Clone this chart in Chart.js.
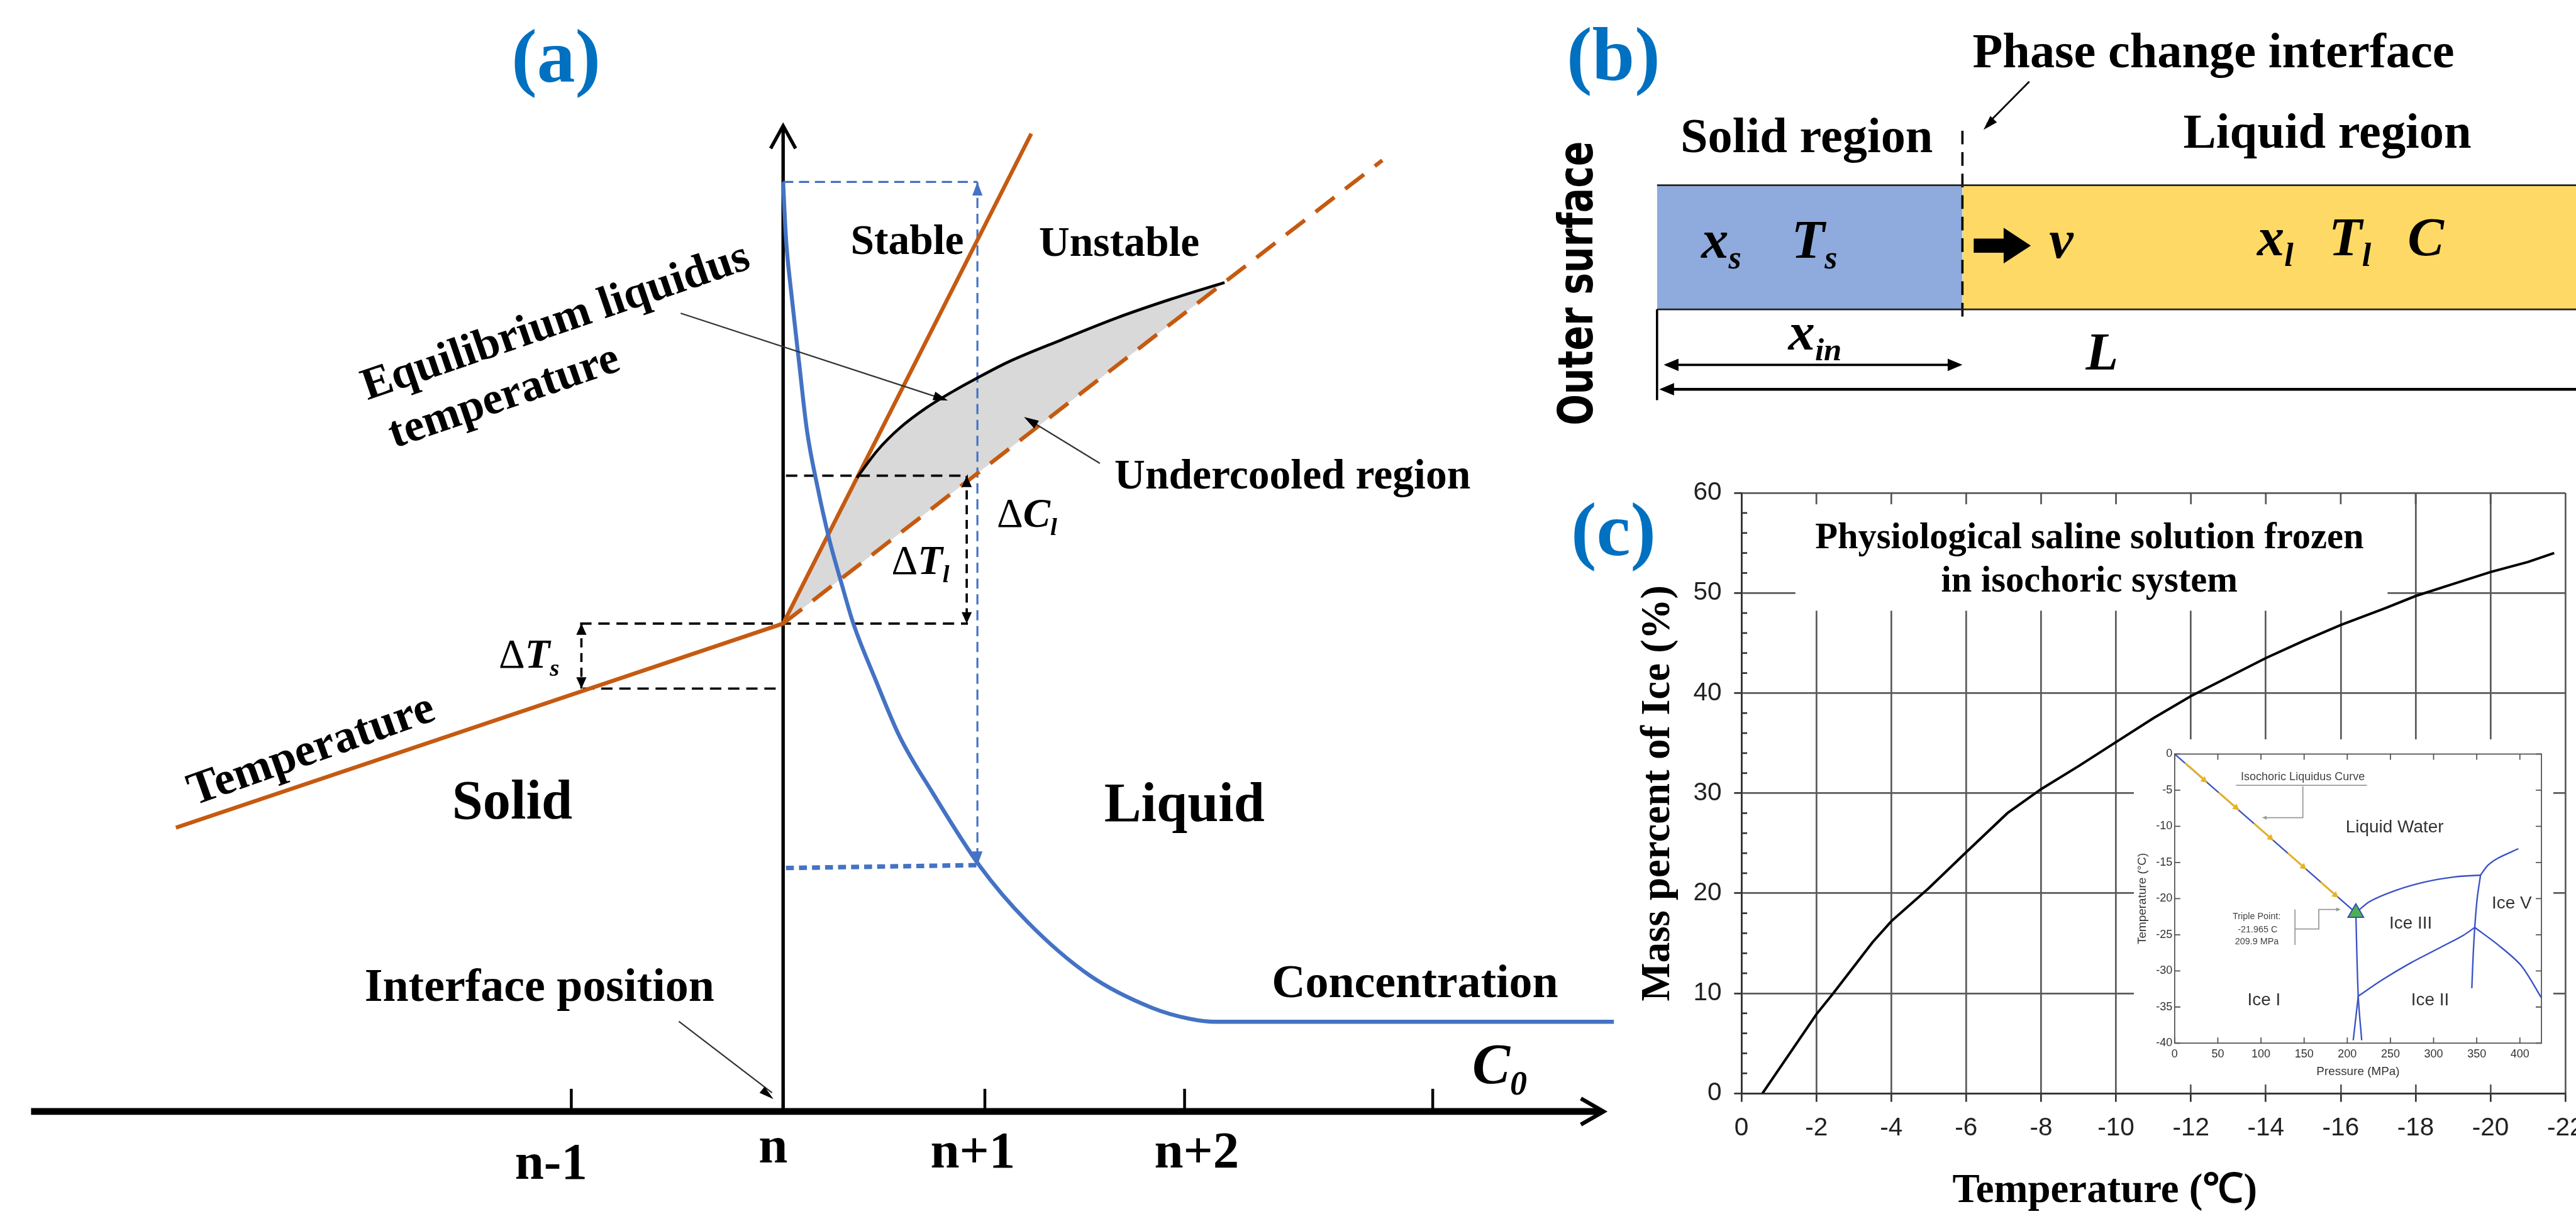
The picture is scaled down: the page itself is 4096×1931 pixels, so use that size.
<!DOCTYPE html>
<html>
<head>
<meta charset="utf-8">
<script src="https://cdn.jsdelivr.net/npm/chart.js@4.4.1/dist/chart.umd.min.js"></script>
<style>
html, body { margin: 0; padding: 0; background: #fff; overflow: hidden; width: 4096px; height: 1931px; }
canvas { position: absolute; }
</style>
</head>
<body>
<canvas id="pa"></canvas>
<canvas id="pb"></canvas>
<canvas id="pc"></canvas>
<canvas id="pd"></canvas>
<script>
const S = 0.901;
const SERIF = '"Liberation Serif", "Times New Roman", serif';
const SANS = '"Liberation Sans", Arial, sans-serif';
const HEAVY = '"DejaVu Sans", "Liberation Sans", Arial, sans-serif';
const NARROW = '"Liberation Sans Narrow", "Liberation Sans", Arial, sans-serif';
const ORANGE = '#C55A11', BLUE = '#4472C4', TITLE_BLUE = '#0070C0';
const INSET_BLUE = '#3A52C4', GOLD = '#E9B320';

// ---------- (a) schematic: x = grid node from interface (n = 0), y = arbitrary units ----------
const nodeTicks = [-1.05, 0, 1.0, 1.99, 3.22];
const nodeNames = ['n-1', 'n', 'n+1', 'n+2'];
const tempX = [-3.01, 0, 1.23];
const tempY = [28.8, 49.5, 99.2];
const tempDashX = [0, 2.97];
const tempDashY = [49.5, 96.5];
const liquidusX = [0.366, 0.469, 0.576, 0.711, 0.846, 0.952, 1.112, 1.382, 1.652, 1.921, 2.188];
const liquidusY = [64.3, 67.1, 69.3, 71.4, 73.1, 74.3, 76.0, 78.3, 80.5, 82.4, 84.1];
const concX = [0, 0.014, 0.039, 0.079, 0.118, 0.171, 0.228, 0.289, 0.348, 0.458, 0.576, 0.742, 0.975, 1.208, 1.52, 1.831, 2.017, 2.143, 4.118];
const concY = [94.3, 88.6, 83.3, 76.0, 69.1, 63.3, 58.1, 53.6, 49.5, 43.8, 38.1, 32.3, 24.9, 19.3, 13.8, 10.5, 9.4, 9.1, 9.1];
const probeX = 0.963;
const concTop = 94.3, concLow = 25.0;
const tLiq = 64.5, tInt = 49.5, tSol = 42.9;

// ---------- (b) 1-D domain: x in units of x_in, y = layer height ----------
const solidSpan = [0, 1];
const liquidSpan = [1, 3.1];

// ---------- (c) ice fraction vs temperature ----------
const tempC = [-0.56, -2.0, -2.45, -3.5, -4.0, -5.0, -6.0, -7.1, -8.0, -9.0, -10.0, -11.0, -12.0, -13.0, -14.0, -15.0, -16.0, -17.2, -18.0, -19.0, -20.0, -21.0, -21.7];
const iceMass = [0, 7.9, 10.0, 15.1, 17.2, 20.5, 24.1, 28.0, 30.4, 32.7, 35.1, 37.5, 39.7, 41.6, 43.5, 45.2, 46.8, 48.5, 49.7, 50.9, 52.1, 53.1, 54.0];
const xTicksC = [0, -2, -4, -6, -8, -10, -12, -14, -16, -18, -20, -22];
const yTicksC = [0, 10, 20, 30, 40, 50, 60];

// ---------- inset: water phase diagram (pressure MPa, temperature C) ----------
const insetXTicks = [0, 50, 100, 150, 200, 250, 300, 350, 400];
const insetYTicks = [0, -5, -10, -15, -20, -25, -30, -35, -40];
const liqCurveP = [0, 209.9];
const liqCurveT = [0, -21.965];
const yellowSegP = [[12, 34], [51, 74], [92, 113], [131, 152], [169, 188]];
const yellowSegT = [[-1.2, -3.5], [-5.3, -7.7], [-9.6, -11.8], [-13.7, -15.9], [-17.7, -19.7]];
const markP = [34, 71, 111, 149, 186];
const markT = [-3.6, -7.4, -11.6, -15.6, -19.5];
const triplePoint = [209.9, -21.965];
const ice1aP = [209.9, 212.7, 216.7], ice1aT = [-21.965, -33.5, -39.6];
const ice1bP = [212.7, 206.9], ice1bT = [-33.5, -39.6];
const ice32P = [212.7, 239.7, 273.4, 307.2, 334.2, 347.7], ice32T = [-33.5, -31.3, -28.9, -26.8, -25.1, -24.0];
const liq3P = [209.9, 226, 256.5, 290, 324, 354.4], liq3T = [-21.965, -20.4, -18.85, -17.7, -17.0, -16.75];
const liq5P = [354.4, 362.9, 374.7, 398.3], liq5T = [-16.75, -15.4, -14.4, -13.1];
const ice35P = [354.4, 350.5, 347.7, 345.8, 344.3], ice35T = [-16.75, -20.0, -24.0, -28.0, -32.4];
const ice25P = [347.7, 374.7, 401.7, 425.3], ice25T = [-24.0, -26.4, -29.3, -33.8];

// ---------- helpers ----------
Chart.defaults.font.family = SANS;
Chart.defaults.color = '#222';

const pts = (xs, ys) => xs.map((x, i) => ({x: x, y: ys[i]}));
const pix = (ch, x, y) => [ch.scales.x.getPixelForValue(x), ch.scales.y.getPixelForValue(y)];

function line(data, color, width, more) {
  return Object.assign({data: data, borderColor: color, backgroundColor: color, borderWidth: width * S,
    pointRadius: 0, fill: false, tension: 0}, more || {});
}
function dash(a, b) { return [a * S, b * S]; }

function place(id, x, y, w, h) {
  const c = document.getElementById(id);
  const L = Math.round(x * S), T = Math.round(y * S);
  const W = Math.round((x + w) * S) - L, H = Math.round((y + h) * S) - T;
  c.style.left = L + 'px'; c.style.top = T + 'px';
  c.width = W; c.height = H; c.style.width = W + 'px'; c.style.height = H + 'px';
  return c;
}

function baseOptions(scales, padding) {
  return {
    responsive: false, maintainAspectRatio: false, animation: false, devicePixelRatio: 1, events: [],
    layout: {padding: padding || 0},
    plugins: {legend: {display: false}, tooltip: {enabled: false}},
    scales: scales
  };
}

function poly(ctx, p, color, w, d) {
  ctx.save();
  ctx.strokeStyle = color; ctx.lineWidth = w * S;
  ctx.setLineDash(d ? d.map(v => v * S) : []);
  ctx.beginPath();
  p.forEach((q, i) => i ? ctx.lineTo(q[0], q[1]) : ctx.moveTo(q[0], q[1]));
  ctx.stroke();
  ctx.restore();
}
function head(ctx, from, tip, len, wid, color) {
  const a = Math.atan2(tip[1] - from[1], tip[0] - from[0]);
  const bx = tip[0] - len * S * Math.cos(a), by = tip[1] - len * S * Math.sin(a);
  const nx = -Math.sin(a) * wid * S / 2, ny = Math.cos(a) * wid * S / 2;
  ctx.save(); ctx.fillStyle = color; ctx.beginPath();
  ctx.moveTo(tip[0], tip[1]); ctx.lineTo(bx + nx, by + ny); ctx.lineTo(bx - nx, by - ny);
  ctx.closePath(); ctx.fill(); ctx.restore();
}
function chevron(ctx, from, tip, len, wid, color, lw) {
  const a = Math.atan2(tip[1] - from[1], tip[0] - from[0]);
  const bx = tip[0] - len * S * Math.cos(a), by = tip[1] - len * S * Math.sin(a);
  const nx = -Math.sin(a) * wid * S / 2, ny = Math.cos(a) * wid * S / 2;
  ctx.save(); ctx.strokeStyle = color; ctx.lineWidth = lw * S; ctx.lineJoin = 'miter';
  ctx.beginPath(); ctx.moveTo(bx + nx, by + ny); ctx.lineTo(tip[0], tip[1]); ctx.lineTo(bx - nx, by - ny);
  ctx.stroke(); ctx.restore();
}
function text(ctx, s, x, y, size, o) {
  o = o || {};
  ctx.save();
  ctx.font = (o.style || 'bold') + ' ' + (size * S) + 'px ' + (o.family || SERIF);
  ctx.fillStyle = o.color || '#000';
  ctx.textAlign = o.align || 'center';
  ctx.textBaseline = o.base || 'middle';
  ctx.translate(x, y);
  if (o.rot) ctx.rotate(o.rot * Math.PI / 180);
  if (o.fitW) { const w = ctx.measureText(s).width; ctx.scale(o.fitW * S / w, 1); }
  ctx.fillText(s, 0, 0);
  ctx.restore();
}
// runs: [text, fontStyle, isSubscript]; x = left edge, y = baseline
function rich(ctx, runs, x, y, size) {
  ctx.save();
  ctx.textBaseline = 'alphabetic'; ctx.textAlign = 'left'; ctx.fillStyle = '#000';
  let cx = x;
  runs.forEach(r => {
    const sz = (r[2] ? size * 0.6 : size) * S;
    ctx.font = r[1] + ' ' + sz + 'px ' + SERIF;
    ctx.fillText(r[0], cx, y + (r[2] ? size * 0.2 * S : 0));
    cx += ctx.measureText(r[0]).width;
  });
  ctx.restore();
}

// ================= panel (a) =================
const panelA = {
  id: 'panelA',
  beforeDatasetsDraw(ch) {
    const ctx = ch.ctx, P = (x, y) => pix(ch, x, y);
    poly(ctx, [P(-3.728, 0), P(4.05, 0)], '#000', 12);
    chevron(ctx, P(3.9, 0), P(4.067, 0), 40, 46, '#000', 7);
    nodeTicks.forEach(v => poly(ctx, [P(v, 0), P(v, 2.3)], '#000', 5));
    poly(ctx, [P(0, 0), P(0, 99.8)], '#000', 6);
    chevron(ctx, P(0, 90), P(0, 100), 40, 44, '#000', 6);
  },
  afterDatasetsDraw(ch) {
    const ctx = ch.ctx, P = (x, y) => pix(ch, x, y);
    const labelAt = [[-1.15, -6.8], [-0.05, -5.2], [0.94, -5.7], [2.05, -5.7]];
    nodeNames.forEach((s, i) => text(ctx, s, ...P(labelAt[i][0], labelAt[i][1]), 92, {base: 'alphabetic'}));

    text(ctx, '(a)', ...P(-1.126, 104.5), 135, {color: TITLE_BLUE, base: 'alphabetic'});
    text(ctx, 'Stable', ...P(0.615, 88.1), 75);
    text(ctx, 'Unstable', ...P(1.666, 87.9), 75);
    text(ctx, 'Equilibrium liquidus', ...P(-1.126, 80.0), 80, {rot: -19});
    text(ctx, 'temperature', ...P(-1.382, 72.4), 80, {rot: -19});
    text(ctx, 'Undercooled region', ...P(2.525, 64.3), 75);
    text(ctx, 'Temperature', ...P(-2.337, 36.55), 82, {rot: -19.5});
    text(ctx, 'Solid', ...P(-1.343, 31.15), 98);
    text(ctx, 'Liquid', ...P(1.989, 30.92), 98);
    text(ctx, 'Interface position', ...P(-1.208, 12.47), 82);
    text(ctx, 'Concentration', ...P(3.132, 12.82), 82);

    rich(ctx, [['Δ', 'normal'], ['T', 'italic bold'], ['s', 'italic bold', 1]], ...P(-1.41, 45.0), 72);
    rich(ctx, [['Δ', 'normal'], ['T', 'italic bold'], ['l', 'italic bold', 1]], ...P(0.537, 54.5), 72);
    rich(ctx, [['Δ', 'normal'], ['C', 'italic bold'], ['l', 'italic bold', 1]], ...P(1.059, 59.3), 72);
    rich(ctx, [['C', 'italic bold'], ['0', 'italic bold', 1]], ...P(3.416, 2.87), 100);

    // pointers
    poly(ctx, [P(-0.508, 80.98), P(0.79, 72.3)], '#333', 2.5);
    head(ctx, P(-0.508, 80.98), P(0.817, 72.13), 26, 16, '#000');
    poly(ctx, [P(1.570, 65.75), P(1.215, 70.2)], '#333', 2.5);
    head(ctx, P(1.570, 65.75), P(1.194, 70.46), 26, 16, '#000');
    poly(ctx, [P(-0.517, 9.14), P(-0.055, 1.9)], '#333', 2.5);
    head(ctx, P(-0.517, 9.14), P(-0.048, 1.26), 26, 14, '#000');

    // double-headed guide arrows
    head(ctx, P(-1.0, 46), P(-1.0, tInt), 20, 18, '#000');
    head(ctx, P(-1.0, 46), P(-1.0, tSol), 20, 18, '#000');
    head(ctx, P(0.91, 57), P(0.91, tLiq), 20, 18, '#000');
    head(ctx, P(0.91, 57), P(0.91, tInt), 20, 18, '#000');
    head(ctx, P(probeX, 60), P(probeX, concTop), 24, 18, BLUE);
    head(ctx, P(probeX, 60), P(probeX, concLow), 24, 18, BLUE);
  }
};

const fillEdge = pts([0].concat(liquidusX), [49.5].concat(liquidusY));
const cA = place('pa', 0, 0, 2900, 2143);
new Chart(cA, {
  type: 'line',
  data: {
    datasets: [
      line(fillEdge, 'rgba(0,0,0,0)', 0, {fill: 1, backgroundColor: '#D9D9D9', cubicInterpolationMode: 'monotone', order: 20}),
      line(pts(tempDashX, tempDashY), ORANGE, 7, {borderDash: dash(42, 24), order: 6}),
      line(pts(tempX, tempY), ORANGE, 7, {order: 5}),
      line(pts(liquidusX, liquidusY), '#000', 5, {cubicInterpolationMode: 'monotone', order: 4}),
      line(pts(concX, concY), BLUE, 7, {cubicInterpolationMode: 'monotone', order: 3}),
      line(pts([0, probeX], [concTop, concTop]), BLUE, 3.5, {borderDash: dash(18, 10), order: 8}),
      line(pts([probeX, probeX], [concTop, concLow]), BLUE, 3.5, {borderDash: dash(18, 10), order: 8}),
      line(pts([0.014, probeX + 0.01], [concLow - 0.3, concLow]), BLUE, 8, {borderDash: dash(14, 9), order: 8}),
      line(pts([0.014, 0.916], [tLiq, tLiq]), '#000', 4, {borderDash: dash(20, 12), order: 9}),
      line(pts([-1.006, 0.916], [tInt, tInt]), '#000', 4, {borderDash: dash(20, 12), order: 9}),
      line(pts([-0.992, -0.011], [tSol, tSol]), '#000', 4, {borderDash: dash(20, 12), order: 9}),
      line(pts([-1.0, -1.0], [tInt, tSol]), '#000', 4, {borderDash: dash(16, 10), order: 9}),
      line(pts([0.91, 0.91], [tLiq, tInt]), '#000', 4, {borderDash: dash(16, 10), order: 9})
    ]
  },
  options: baseOptions({
    x: {type: 'linear', display: false, min: -3.882, max: 4.264},
    y: {type: 'linear', display: false, min: -10.40, max: 112.76}
  }),
  plugins: [panelA]
});

// ================= panel (b) =================
const panelB = {
  id: 'panelB',
  afterDatasetsDraw(ch) {
    const ctx = ch.ctx, P = (x, y) => pix(ch, x, y);
    head(ctx, P(0.3, -0.447), P(0.022, -0.447), 26, 22, '#000');
    head(ctx, P(0.7, -0.447), P(1.0, -0.447), 26, 22, '#000');
    head(ctx, P(0.3, -0.644), P(0.0074, -0.644), 26, 22, '#000');
    poly(ctx, [P(1.219, 1.836), P(1.08, 1.49)], '#000', 3);
    head(ctx, P(1.219, 1.836), P(1.069, 1.447), 26, 16, '#000');

    const sh = 0.057, wg = 0.144, yc = 0.514;
    ctx.save(); ctx.fillStyle = '#000'; ctx.beginPath();
    [[1.037, yc + sh], [1.135, yc + sh], [1.135, yc + wg], [1.224, yc], [1.135, yc - wg], [1.135, yc - sh], [1.037, yc - sh]]
      .forEach((q, i) => { const p = P(q[0], q[1]); i ? ctx.lineTo(p[0], p[1]) : ctx.moveTo(p[0], p[1]); });
    ctx.closePath(); ctx.fill(); ctx.restore();

    text(ctx, '(b)', ...P(-0.143, 1.849), 135, {color: TITLE_BLUE, base: 'alphabetic'});
    text(ctx, 'Phase change interface', ...P(1.822, 1.950), 87, {base: 'alphabetic'});
    text(ctx, 'Solid region', ...P(0.490, 1.265), 87, {base: 'alphabetic'});
    text(ctx, 'Liquid region', ...P(2.195, 1.301), 87, {base: 'alphabetic'});
    text(ctx, 'Outer surface', ...P(-0.252, 0.210), 84, {family: HEAVY, rot: -90, fitW: 502});

    rich(ctx, [['x', 'italic bold'], ['s', 'italic bold', 1]], ...P(0.145, 0.416), 96);
    rich(ctx, [['T', 'italic bold'], ['s', 'italic bold', 1]], ...P(0.440, 0.416), 96);
    rich(ctx, [['v', 'italic bold']], ...P(1.284, 0.416), 96);
    rich(ctx, [['x', 'italic bold'], ['l', 'italic bold', 1]], ...P(1.965, 0.438), 96);
    rich(ctx, [['T', 'italic bold'], ['l', 'italic bold', 1]], ...P(2.200, 0.438), 96);
    rich(ctx, [['C', 'italic bold']], ...P(2.458, 0.438), 96);
    rich(ctx, [['x', 'italic bold'], ['in', 'italic bold', 1]], ...P(0.430, -0.324), 94);
    rich(ctx, [['L', 'italic bold']], ...P(1.404, -0.484), 94);
  }
};

const cB = place('pb', 2700, 0, 1846, 780);
new Chart(cB, {
  type: 'line',
  data: {
    datasets: [
      line(pts(solidSpan, [1, 1]), '#8FAADC', 0, {fill: {value: 0}, backgroundColor: '#8FAADC', order: 20}),
      line(pts(liquidSpan, [1, 1]), '#FFD966', 0, {fill: {value: 0}, backgroundColor: '#FFD966', order: 20}),
      line(pts([0, 3.1], [1, 1]), '#222', 3),
      line(pts([0, 3.1], [0, 0]), '#222', 3),
      line(pts([1, 1], [1.44, -0.12]), '#000', 4, {borderDash: dash(24, 14)}),
      line(pts([0, 0], [0, -0.731]), '#000', 4),
      line(pts([0.03, 0.99], [-0.447, -0.447]), '#000', 4),
      line(pts([0.02, 3.1], [-0.644, -0.644]), '#000', 5)
    ]
  },
  options: baseOptions({
    x: {type: 'linear', display: false, min: -0.4156, max: 3.0093},
    y: {type: 'linear', display: false, min: -1.0685, max: 2.4932}
  }),
  plugins: [panelB]
});

// ================= panel (c) =================
const panelC = {
  id: 'panelC',
  beforeDatasetsDraw(ch) {
    const ctx = ch.ctx, P = (x, y) => pix(ch, x, y);
    const a = P(-1.44, 59.85), b = P(-17.25, 48.23);
    ctx.save(); ctx.fillStyle = '#fff';
    ctx.fillRect(a[0], a[1], b[0] - a[0], b[1] - a[1]);
    ctx.restore();
  },
  afterDatasetsDraw(ch) {
    const ctx = ch.ctx, P = (x, y) => pix(ch, x, y), area = ch.chartArea;
    for (let v = 2; v < 60; v += 2) {
      if (v % 10) { const y = P(0, v)[1]; poly(ctx, [[area.left, y], [area.left + 10 * S, y]], '#333', 3); }
    }
    xTicksC.forEach(v => {
      if (v !== 0 && v !== -22) { const x = P(v, 60)[0]; poly(ctx, [[x, area.top], [x, area.top + 20 * S]], '#555', 3); }
    });
    text(ctx, 'Physiological saline solution frozen', ...P(-9.29, 54.45), 65, {base: 'alphabetic'});
    text(ctx, 'in isochoric system', ...P(-9.29, 50.15), 65, {base: 'alphabetic'});
    text(ctx, 'Temperature (℃)', ...P(-9.70, -9.8), 72);
    text(ctx, '(c)', ...P(3.42, 53.77), 135, {color: TITLE_BLUE, base: 'alphabetic'});
  }
};

const gridC = {color: '#5a5a5a', lineWidth: 3 * S, tickColor: '#333', tickWidth: 3 * S};
const cC = place('pc', 2700, 780, 1920, 1363);
new Chart(cC, {
  type: 'line',
  data: {datasets: [line(pts(tempC, iceMass), '#000', 4.5)]},
  options: baseOptions({
    x: {
      type: 'linear', min: -22, max: 0, reverse: true,
      afterBuildTicks: s => { s.ticks = xTicksC.map(v => ({value: v})); },
      afterFit: s => { s.height = 213 * S; },
      grid: Object.assign({tickLength: 15 * S}, gridC),
      border: {display: true, color: '#333', width: 3 * S},
      ticks: {font: {size: 45 * S}, color: '#222', padding: 20 * S, maxRotation: 0, autoSkip: false, callback: v => String(v)}
    },
    y: {
      type: 'linear', min: 0, max: 60,
      afterBuildTicks: s => { s.ticks = yTicksC.map(v => ({value: v})); },
      afterFit: s => { s.width = 373 * S; },
      grid: Object.assign({tickLength: 13 * S}, gridC),
      border: {display: true, color: '#333', width: 3 * S},
      ticks: {font: {size: 45 * S}, color: '#222', padding: 22 * S, autoSkip: false, callback: v => String(v)},
      title: {display: true, text: 'Mass percent of Ice (%)', color: '#000',
        font: {family: SERIF, weight: 'bold', size: 72 * S}, padding: {top: 183 * S, bottom: 0}}
    }
  }, {left: 0, top: 90 * S, right: 93 * S, bottom: 0}),
  plugins: [panelC]
});

// ================= inset of (c) =================
const panelD = {
  id: 'panelD',
  beforeDraw(ch) {
    const c = ch.ctx; c.save(); c.fillStyle = '#fff'; c.fillRect(0, 0, ch.width, ch.height); c.restore();
  },
  afterDraw(ch) {
    const ctx = ch.ctx, P = (x, y) => pix(ch, x, y), a = ch.chartArea, t = 10 * S;
    ctx.save();
    ctx.strokeStyle = '#555'; ctx.lineWidth = 2 * S;
    ctx.strokeRect(a.left, a.top, a.right - a.left, a.bottom - a.top);
    ctx.beginPath();
    insetXTicks.forEach(v => {
      const x = P(v, 0)[0];
      ctx.moveTo(x, a.bottom); ctx.lineTo(x, a.bottom - t); ctx.moveTo(x, a.top); ctx.lineTo(x, a.top + t);
    });
    insetYTicks.forEach(v => {
      const y = P(0, v)[1];
      ctx.moveTo(a.left, y); ctx.lineTo(a.left + t, y); ctx.moveTo(a.right, y); ctx.lineTo(a.right - t, y);
    });
    ctx.stroke();
    ctx.restore();

    const lbl = {family: NARROW, style: 'normal', color: '#333'};
    text(ctx, 'Liquid Water', ...P(254.9, -10.2), 31, lbl);
    text(ctx, 'Ice III', ...P(273.4, -23.5), 31, lbl);
    text(ctx, 'Ice V', ...P(390.5, -20.7), 31, lbl);
    text(ctx, 'Ice I', ...P(103.5, -34.1), 31, lbl);
    text(ctx, 'Ice II', ...P(296, -34.1), 31, lbl);
    const small = {family: NARROW, style: 'normal', color: '#444'};
    text(ctx, 'Isochoric Liquidus Curve', ...P(148.5, -3.2), 20, small);
    text(ctx, 'Triple Point:', ...P(94.9, -22.5), 16, small);
    text(ctx, '-21.965 C', ...P(96.2, -24.3), 16, small);
    text(ctx, '209.9 MPa', ...P(95.2, -26.0), 16, small);

    poly(ctx, [P(71, -4.33), P(222.8, -4.33)], '#999', 2);
    poly(ctx, [P(148.5, -4.47), P(148.5, -8.8), P(104, -8.8)], '#999', 2);
    head(ctx, P(120, -8.8), P(101.3, -8.8), 8, 7, '#999');
    poly(ctx, [P(139.4, -21.5), P(139.4, -26.4)], '#999', 2);
    poly(ctx, [P(139.4, -24.2), P(167, -24.2), P(167, -21.5), P(190, -21.5)], '#999', 2);
    head(ctx, P(175, -21.5), P(192.4, -21.5), 8, 7, '#999');
  }
};

const insetLines = [
  [liqCurveP, liqCurveT], [ice1aP, ice1aT], [ice1bP, ice1bT], [ice32P, ice32T],
  [liq3P, liq3T], [liq5P, liq5T], [ice35P, ice35T], [ice25P, ice25T]
];
const cD = place('pd', 3766, 1305, 740, 610);
new Chart(cD, {
  type: 'line',
  data: {
    datasets: [
      {data: [{x: triplePoint[0], y: triplePoint[1]}], showLine: false, pointStyle: 'triangle',
        pointRadius: 16 * S, pointBackgroundColor: '#4DB04F', pointBorderColor: '#2E45BE', pointBorderWidth: 2 * S, order: 0},
      {data: pts(markP, markT), showLine: false, pointStyle: 'triangle', pointRotation: 131,
        pointRadius: 7 * S, pointBackgroundColor: GOLD, pointBorderColor: GOLD, pointBorderWidth: 0, order: 1}
    ].concat(
      yellowSegP.map((p, i) => line(pts(p, yellowSegT[i]), GOLD, 3.2, {order: 2})),
      insetLines.map(l => line(pts(l[0], l[1]), INSET_BLUE, 2.6, {tension: 0.3, order: 3}))
    )
  },
  options: baseOptions({
    x: {
      type: 'linear', min: 0, max: 425,
      afterBuildTicks: s => { s.ticks = insetXTicks.map(v => ({value: v})); },
      afterFit: s => { s.height = 73 * S; },
      grid: {drawOnChartArea: false, drawTicks: false},
      border: {display: false},
      ticks: {font: {family: NARROW, size: 20 * S}, color: '#333', padding: 8 * S, maxRotation: 0, autoSkip: false, callback: v => String(v)},
      title: {display: true, text: 'Pressure (MPa)', color: '#333', font: {family: NARROW, size: 21 * S}, padding: {top: 0, bottom: 10 * S}}
    },
    y: {
      type: 'linear', min: -40, max: 0,
      afterBuildTicks: s => { s.ticks = insetYTicks.map(v => ({value: v})); },
      afterFit: s => { s.width = 72 * S; },
      grid: {drawOnChartArea: false, drawTicks: false},
      border: {display: false},
      ticks: {font: {family: NARROW, size: 20 * S}, color: '#333', padding: 4 * S, autoSkip: false, callback: v => String(v)},
      title: {display: true, text: 'Temperature (°C)', color: '#333', font: {family: NARROW, size: 21 * S}, padding: {top: 3 * S, bottom: 0}}
    }
  }, {left: 0, top: 26 * S, right: 21 * S, bottom: 0}),
  plugins: [panelD]
});
</script>
</body>
</html>
